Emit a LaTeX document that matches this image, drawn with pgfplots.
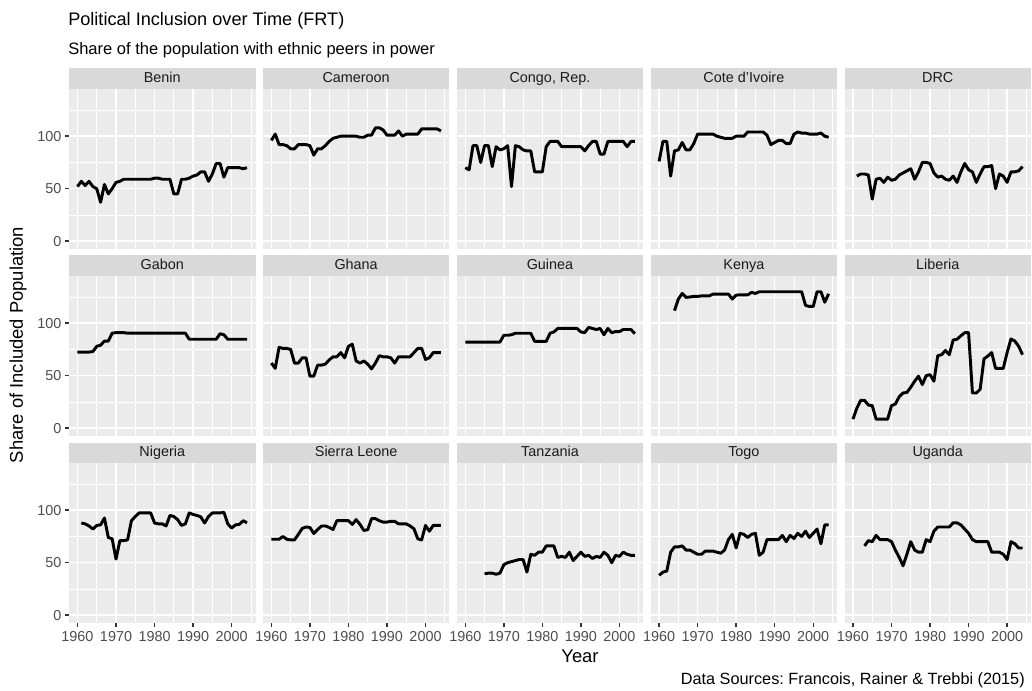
\documentclass[border=0pt]{standalone}
\usepackage{pgfplots}
\pgfplotsset{compat=1.18}
\usepackage{fontspec}
\setmainfont{Liberation Sans}
\frenchspacing
\definecolor{panelbg}{HTML}{EBEBEB}
\definecolor{stripbg}{HTML}{D9D9D9}
\definecolor{tickc}{HTML}{4D4D4D}
\definecolor{tickmark}{HTML}{333333}
\definecolor{striptext}{HTML}{1A1A1A}
\newcommand{\ticklab}{\fontsize{10.8}{12}\selectfont}
\pgfplotsset{
 facet/.style={
   scale only axis, width=139.875pt, height=120pt, anchor=south west,
   xmin=1957.8, xmax=2006.2, ymin=-7.5, ymax=145,
   axis background/.style={fill=panelbg, draw=none},
   axis line style={draw=none},
   xtick={1960,1970,1980,1990,2000}, ytick={0,50,100},
   minor xtick={1965,1975,1985,1995,2005}, minor ytick={25,75,125},
   xmajorgrids, ymajorgrids, xminorgrids, yminorgrids,
   major grid style={white, line width=1.07pt},
   minor grid style={white, line width=0.53pt},
   tick align=outside, xtick pos=bottom, ytick pos=left,
   major tick length=2.75pt, minor tick length=0pt,
   minor tick style={draw=none},
   xtick style={draw=none}, ytick style={draw=none},
   xticklabels={}, yticklabels={},
   ticklabel style={font=\ticklab, text=tickc},
   yticklabel style={xshift=0.5pt},
 },
 showx/.style={xtick style={draw=tickmark, line width=1.07pt}, xticklabels={1960,1970,1980,1990,2000}},
 showy/.style={ytick style={draw=tickmark, line width=1.07pt}, yticklabels={0,50,100}},
 dl/.style={black, line width=2.2pt, line join=round, mark=none},
}
\begin{document}
\begin{tikzpicture}[x=0.75pt,y=0.75pt]
\useasboundingbox (0,0) rectangle (1032,690);
% ---------------- Row 1 ----------------
\begin{axis}[facet, showy, at={(51.75pt,330.75pt)}]
\addplot[dl] coordinates {(1960,52)(1961,57)(1962,53)(1963,57)(1964,52)(1965,50)(1966,37)(1967,54)(1968,45)(1969,50)(1970,56)(1971,57)(1972,59)(1973,59)(1974,59)(1975,59)(1976,59)(1977,59)(1978,59)(1979,59)(1980,60)(1981,60)(1982,59)(1983,59)(1984,59)(1985,45)(1986,45)(1987,59)(1988,59)(1989,60)(1990,62)(1991,63)(1992,66)(1993,66)(1994,57)(1995,64)(1996,74)(1997,74)(1998,61)(1999,70)(2000,70)(2001,70)(2002,70)(2003,69)(2004,70)};
\end{axis}
\begin{axis}[facet, at={(197.175pt,330.75pt)}]
\addplot[dl] coordinates {(1960,96)(1961,102)(1962,92)(1963,92)(1964,91)(1965,88)(1966,88)(1967,92)(1968,92)(1969,92)(1970,91)(1971,82)(1972,88)(1973,88)(1974,91)(1975,95)(1976,98)(1977,99)(1978,100)(1979,100)(1980,100)(1981,100)(1982,100)(1983,99)(1984,99)(1985,101)(1986,101)(1987,108)(1988,108)(1989,106)(1990,101)(1991,101)(1992,101)(1993,105)(1994,100)(1995,102)(1996,102)(1997,102)(1998,102)(1999,107)(2000,107)(2001,107)(2002,107)(2003,107)(2004,105)};
\end{axis}
\begin{axis}[facet, at={(342.6pt,330.75pt)}]
\addplot[dl] coordinates {(1960,70)(1961,68)(1962,91)(1963,91)(1964,75)(1965,91)(1966,91)(1967,71)(1968,90)(1969,87)(1970,88)(1971,91)(1972,52)(1973,91)(1974,90)(1975,87)(1976,86)(1977,86)(1978,66)(1979,66)(1980,66)(1981,90)(1982,95)(1983,95)(1984,95)(1985,90)(1986,90)(1987,90)(1988,90)(1989,90)(1990,90)(1991,86)(1992,91)(1993,95)(1994,95)(1995,83)(1996,83)(1997,95)(1998,95)(1999,95)(2000,95)(2001,95)(2002,90)(2003,95)(2004,95)};
\end{axis}
\begin{axis}[facet, at={(487.95pt,330.75pt)}]
\addplot[dl] coordinates {(1960,76)(1961,95)(1962,95)(1963,62)(1964,86)(1965,87)(1966,94)(1967,87)(1968,87)(1969,93)(1970,102)(1971,102)(1972,102)(1973,102)(1974,102)(1975,100)(1976,99)(1977,98)(1978,98)(1979,98)(1980,100)(1981,100)(1982,100)(1983,104)(1984,104)(1985,104)(1986,104)(1987,104)(1988,101)(1989,92)(1990,94)(1991,96)(1992,96)(1993,93)(1994,93)(1995,102)(1996,104)(1997,103)(1998,103)(1999,102)(2000,102)(2001,102)(2002,103)(2003,100)(2004,99)};
\end{axis}
\begin{axis}[facet, at={(633.375pt,330.75pt)}]
\addplot[dl] coordinates {(1961,62)(1962,64)(1963,64)(1964,63)(1965,40)(1966,59)(1967,60)(1968,56)(1969,61)(1970,58)(1971,59)(1972,63)(1973,65)(1974,67)(1975,69)(1976,59)(1977,66)(1978,75)(1979,75)(1980,74)(1981,65)(1982,61)(1983,62)(1984,59)(1985,58)(1986,62)(1987,56)(1988,66)(1989,74)(1990,68)(1991,66)(1992,56)(1993,64)(1994,71)(1995,71)(1996,72)(1997,50)(1998,64)(1999,62)(2000,56)(2001,66)(2002,66)(2003,67)(2004,71)};
\end{axis}
% ---------------- Row 2 ----------------
\begin{axis}[facet, showy, at={(51.75pt,190.5pt)}]
\addplot[dl] coordinates {(1960,72.5)(1961,72.5)(1962,72.5)(1963,72.5)(1964,73)(1965,78)(1966,79)(1967,83)(1968,83)(1969,90.5)(1970,91)(1971,91)(1972,91)(1973,90.5)(1974,90.5)(1975,90.5)(1976,90.5)(1977,90.5)(1978,90.5)(1979,90.5)(1980,90.5)(1981,90.5)(1982,90.5)(1983,90.5)(1984,90.5)(1985,90.5)(1986,90.5)(1987,90.5)(1988,90.5)(1989,84.7)(1990,84.7)(1991,84.7)(1992,84.7)(1993,84.7)(1994,84.7)(1995,84.7)(1996,84.7)(1997,90)(1998,89)(1999,84.7)(2000,84.7)(2001,84.7)(2002,84.7)(2003,84.7)(2004,84.7)};
\end{axis}
\begin{axis}[facet, at={(197.175pt,190.5pt)}]
\addplot[dl] coordinates {(1960,62)(1961,57)(1962,77)(1963,76)(1964,76)(1965,75)(1966,62)(1967,62)(1968,67)(1969,67)(1970,49.5)(1971,49.5)(1972,60)(1973,60)(1974,61)(1975,65)(1976,68)(1977,68)(1978,72)(1979,67)(1980,78)(1981,80)(1982,64)(1983,62)(1984,64)(1985,61)(1986,56.5)(1987,62)(1988,69)(1989,68)(1990,68)(1991,67)(1992,62)(1993,68)(1994,68)(1995,68)(1996,68)(1997,72)(1998,76)(1999,76)(2000,65.5)(2001,67)(2002,72)(2003,72)(2004,72)};
\end{axis}
\begin{axis}[facet, at={(342.6pt,190.5pt)}]
\addplot[dl] coordinates {(1960,82)(1961,82)(1962,82)(1963,82)(1964,82)(1965,82)(1966,82)(1967,82)(1968,82)(1969,82)(1970,88.5)(1971,88.5)(1972,89)(1973,90.4)(1974,90.4)(1975,90.4)(1976,90.4)(1977,90.4)(1978,82.7)(1979,82.7)(1980,82.7)(1981,82.7)(1982,90.4)(1983,91.7)(1984,95)(1985,95)(1986,95)(1987,95)(1988,95)(1989,95)(1990,91.7)(1991,91)(1992,96)(1993,95)(1994,94)(1995,95)(1996,89)(1997,95)(1998,91)(1999,92)(2000,92)(2001,94)(2002,94)(2003,94)(2004,90)};
\end{axis}
\begin{axis}[facet, at={(487.95pt,190.5pt)}]
\addplot[dl] coordinates {(1964,112)(1965,123)(1966,128.4)(1967,124.6)(1968,125)(1969,125.6)(1970,125.6)(1971,126)(1972,126)(1973,126)(1974,127.8)(1975,127.8)(1976,127.8)(1977,127.8)(1978,127.8)(1979,123)(1980,126.8)(1981,127)(1982,127)(1983,127)(1984,129.4)(1985,128.4)(1986,130)(1987,130)(1988,130)(1989,130)(1990,130)(1991,130)(1992,130)(1993,130)(1994,130)(1995,130)(1996,130)(1997,130)(1998,117)(1999,116)(2000,116)(2001,130)(2002,130)(2003,120)(2004,128)};
\end{axis}
\begin{axis}[facet, at={(633.375pt,190.5pt)}]
\addplot[dl] coordinates {(1960,8.6)(1961,19)(1962,26.5)(1963,26.5)(1964,22)(1965,21.4)(1966,8.6)(1967,8.6)(1968,8.6)(1969,8.6)(1970,21.4)(1971,23)(1972,30)(1973,33.5)(1974,34)(1975,39)(1976,44.7)(1977,49.5)(1978,41.5)(1979,50)(1980,51)(1981,44.7)(1982,69)(1983,70)(1984,74)(1985,70)(1986,84)(1987,84.7)(1988,88)(1989,91)(1990,91)(1991,33.5)(1992,33.5)(1993,37)(1994,66)(1995,68.7)(1996,72)(1997,57)(1998,57)(1999,57)(2000,72)(2001,85)(2002,83)(2003,78)(2004,70)};
\end{axis}
% ---------------- Row 3 ----------------
\begin{axis}[facet, showx, showy, at={(51.75pt,50.25pt)}]
\addplot[dl] coordinates {(1961,87.8)(1962,87)(1963,85)(1964,82)(1965,85.5)(1966,86)(1967,92.6)(1968,74)(1969,72.7)(1970,53.4)(1971,71)(1972,71)(1973,71.7)(1974,90)(1975,94)(1976,97.4)(1977,97.4)(1978,97.4)(1979,97.4)(1980,87.8)(1981,87)(1982,87)(1983,85)(1984,95)(1985,94)(1986,91)(1987,85.5)(1988,87)(1989,97.4)(1990,96)(1991,95)(1992,93.6)(1993,87.8)(1994,94)(1995,97.4)(1996,97.4)(1997,97.4)(1998,98)(1999,87)(2000,83)(2001,86)(2002,86.5)(2003,90)(2004,88)};
\end{axis}
\begin{axis}[facet, showx, at={(197.175pt,50.25pt)}]
\addplot[dl] coordinates {(1960,72.3)(1961,72.3)(1962,72.3)(1963,75)(1964,72.3)(1965,71.7)(1966,71.7)(1967,77)(1968,82.6)(1969,84)(1970,83.6)(1971,77.8)(1972,81.6)(1973,84.9)(1974,85)(1975,83.6)(1976,81.6)(1977,90)(1978,90)(1979,90)(1980,90)(1981,86.5)(1982,91)(1983,86.5)(1984,80.7)(1985,81.4)(1986,92)(1987,92)(1988,90)(1989,88.7)(1990,88.7)(1991,89.4)(1992,89.4)(1993,87)(1994,87)(1995,87)(1996,85)(1997,82.3)(1998,72.7)(1999,71.7)(2000,85.5)(2001,80)(2002,85.5)(2003,85.5)(2004,85.5)};
\end{axis}
\begin{axis}[facet, showx, at={(342.6pt,50.25pt)}]
\addplot[dl] coordinates {(1965,39.4)(1966,40)(1967,40)(1968,39)(1969,40)(1970,48)(1971,50)(1972,51)(1973,52)(1974,53)(1975,53)(1976,41)(1977,58)(1978,57)(1979,60)(1980,60)(1981,66)(1982,66)(1983,66)(1984,55)(1985,56)(1986,55)(1987,60)(1988,52)(1989,56)(1990,60)(1991,56)(1992,57)(1993,54)(1994,56)(1995,55)(1996,60)(1997,57)(1998,50)(1999,57)(2000,56)(2001,60)(2002,58)(2003,57)(2004,57)};
\end{axis}
\begin{axis}[facet, showx, at={(487.95pt,50.25pt)}]
\addplot[dl] coordinates {(1960,38)(1961,41)(1962,42)(1963,60)(1964,65)(1965,65)(1966,66)(1967,62)(1968,62)(1969,60)(1970,58)(1971,58)(1972,61)(1973,61)(1974,61)(1975,60)(1976,59)(1977,62)(1978,72)(1979,77)(1980,64)(1981,78)(1982,77)(1983,74)(1984,77)(1985,78)(1986,57)(1987,60)(1988,72)(1989,72)(1990,72)(1991,72)(1992,76)(1993,70)(1994,76)(1995,73)(1996,78)(1997,75)(1998,80)(1999,74)(2000,78)(2001,82)(2002,68)(2003,86)(2004,86)};
\end{axis}
\begin{axis}[facet, showx, at={(633.375pt,50.25pt)}]
\addplot[dl] coordinates {(1963,66)(1964,71)(1965,70)(1966,76)(1967,72)(1968,72)(1969,72)(1970,70)(1971,62)(1972,55)(1973,47)(1974,58)(1975,70)(1976,62)(1977,60)(1978,60)(1979,72)(1980,70)(1981,80)(1982,84)(1983,84)(1984,84)(1985,84)(1986,88)(1987,88)(1988,86)(1989,82)(1990,78)(1991,72)(1992,70)(1993,70)(1994,70)(1995,70)(1996,60)(1997,60)(1998,60)(1999,58)(2000,53)(2001,70)(2002,68)(2003,64)(2004,64)};
\end{axis}
% ---------------- Strips ----------------
\foreach \nm [count=\i from 0] in {Benin,Cameroon,{Congo, Rep.},Cote d'Ivoire,DRC,Gabon,Ghana,Guinea,Kenya,Liberia,Nigeria,Sierra Leone,Tanzania,Togo,Uganda}{
  \pgfmathsetmacro{\cx}{69+193.875*mod(\i,5)}
  \pgfmathsetmacro{\ty}{601-187*int(\i/5)}
  \fill[stripbg] (\cx,\ty) rectangle (\cx+186.5,\ty+20.5);
  \node[text=striptext, font=\fontsize{10.8}{12}\selectfont, anchor=base, inner sep=0pt] at (\cx+93.25,\ty+6.3) {\nm};
}
% ---------------- Titles ----------------
\node[anchor=west, font=\fontsize{13.6}{16}\selectfont, inner sep=0pt] at (68,690-21) {Political Inclusion over Time (FRT)};
\node[anchor=west, font=\fontsize{12.4}{14}\selectfont, inner sep=0pt] at (68,690-50) {Share of the population with ethnic peers in power};
\node[rotate=90, font=\fontsize{13.8}{16}\selectfont, inner sep=0pt] at (18,690-345) {Share of Included Population};
\node[font=\fontsize{13.8}{16}\selectfont, inner sep=0pt] at (580,690-656) {Year};
\node[anchor=east, font=\fontsize{12.2}{14}\selectfont, inner sep=0pt] at (1025,690-680) {Data Sources: Francois, Rainer \& Trebbi (2015)};
\end{tikzpicture}
\end{document}
